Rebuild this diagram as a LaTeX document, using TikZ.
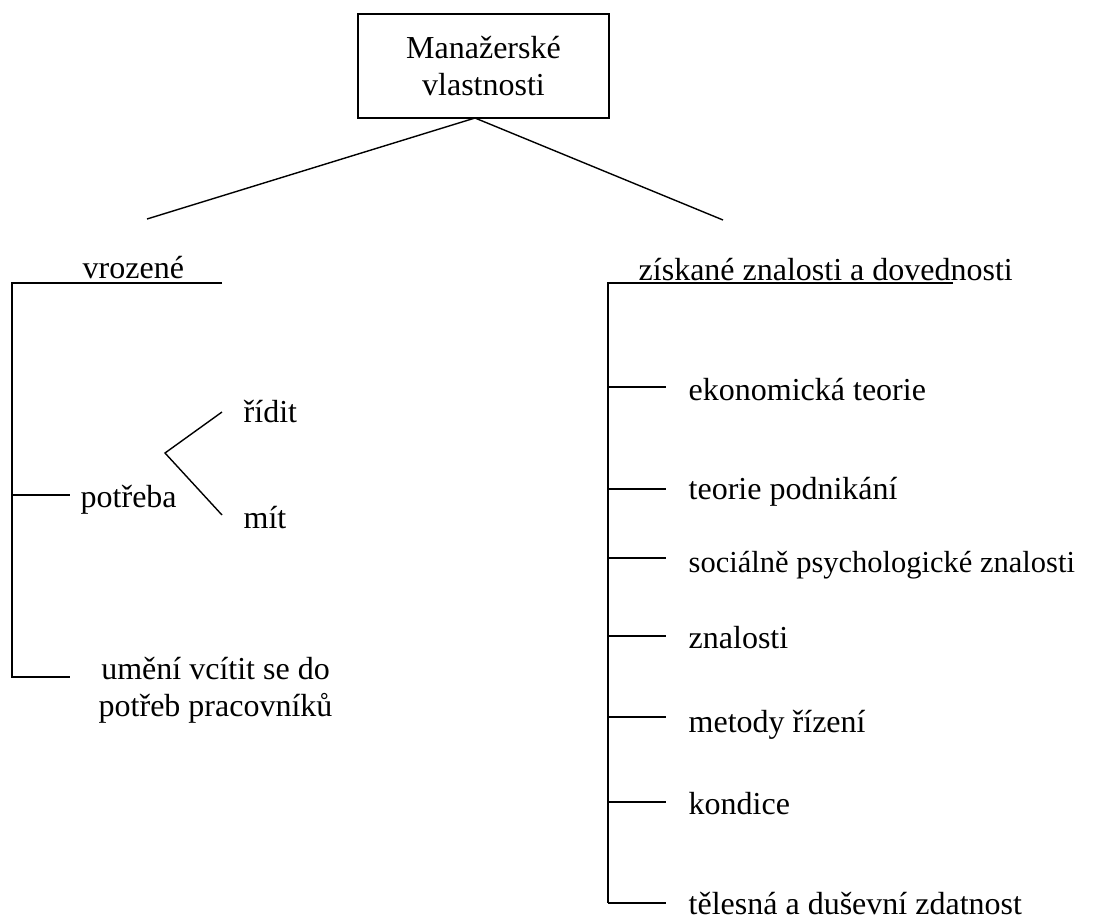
\documentclass[tikz,border=0pt]{standalone}
\usepackage{fontspec}
\setmainfont{Liberation Serif}
\begin{document}
\begin{tikzpicture}[x=1pt,y=-1pt,line width=1.4pt,
  txt/.style={font=\fontsize{32}{37}\selectfont},
  lbl/.style={txt,anchor=base west,inner sep=0pt},
  rootbox/.style={txt,draw,minimum width=251pt,minimum height=104pt,align=center,inner sep=0pt}]
\useasboundingbox (0,0) rectangle (1094,921);
% root
\node[rootbox] (root) at (483.5,66) {Manažerské\\vlastnosti};
\coordinate (apex) at (475,118);
\coordinate (lend) at (147,219);
\coordinate (rend) at (723,220);
\draw (lend) -- (apex) -- (rend);
% left branch
\node[lbl] (vroz) at (82,278) {vrozené};
\coordinate (lt) at (12,283);
\coordinate (lte) at (222,283);
\coordinate (lm) at (12,495);
\coordinate (lme) at (70,495);
\coordinate (lb) at (12,677);
\coordinate (lbe) at (70,677);
\draw (lte) -- (lt) -- (lb) -- (lbe);
\draw (lm) -- (lme);
\node[lbl] (potreba) at (80,507) {potřeba};
\coordinate (fork) at (165,453);
\coordinate (fa) at (222,412);
\coordinate (fb) at (222,515);
\draw (fa) -- (fork) -- (fb);
\node[lbl] (ridit) at (243,422) {řídit};
\node[lbl] (mit) at (243,528) {mít};
\node[txt,anchor=west,align=center,inner sep=0pt] (umeni) at (98,690) {umění vcítit se do\\potřeb pracovníků};
% right branch
\node[lbl] (zisk) at (638,280) {získané znalosti a dovednosti};
\coordinate (rt) at (608,283);
\coordinate (rte) at (953,283);
\coordinate (rb) at (608,903);
\draw (rte) -- (rt) -- (rb);
\foreach \ty/\by/\nm/\tx in {387/400/r1/{ekonomická teorie},
  489/499/r2/{teorie podnikání},
  558/572/r3/{\fontsize{30.5}{37}\selectfont sociálně psychologické znalosti},
  636/648/r4/{znalosti},
  717/732/r5/{metody řízení},
  802/814/r6/{kondice},
  903/914/r7/{tělesná a duševní zdatnost}}{
  \coordinate (\nm a) at (608,\ty);
  \coordinate (\nm b) at (666,\ty);
  \draw (\nm a) -- (\nm b);
  \node[lbl] (\nm) at (688,\by) {\tx};
}
\end{tikzpicture}
\end{document}
